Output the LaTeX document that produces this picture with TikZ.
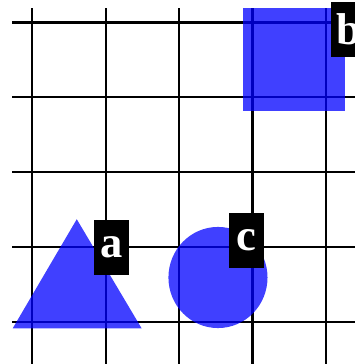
\documentclass[tikz,border=0pt]{standalone}
\usepackage{fontspec}
\setmainfont{Liberation Serif}

\begin{document}
\begin{tikzpicture}[x=1cm, y=1.0205cm,
    blob/.style={fill=blue, fill opacity=0.75},
    tag/.style={fill=black, text=white, font=\LARGE\bfseries, minimum width=0.477cm, minimum height=0.75cm, inner sep=0pt}]
    \useasboundingbox (-0.44,-0.56) rectangle (4.39,4.30);
    % grid
    \foreach \i in {0,...,4} {
        \draw[line width=0.8pt] (\i,-0.7) -- (\i,4.19);
        \draw[line width=0.8pt] (-0.27,\i) -- (4.6,\i);
    }
    % shapes
    \fill[blob] (-0.267,-0.084) -- (0.606,1.373) -- (1.49,-0.084) -- cycle;
    \fill[blob] (2.53,0.595) circle (0.675);
    \fill[blob] (2.87,2.82) rectangle (4.26,4.19);
    % labels
    \node[tag] (a) at (1.075,1.0) {a};
    \node[tag] (c) at (2.92,1.09) {c};
    \node[tag] (b) at (4.31,3.91) {b};
\end{tikzpicture}
\end{document}
